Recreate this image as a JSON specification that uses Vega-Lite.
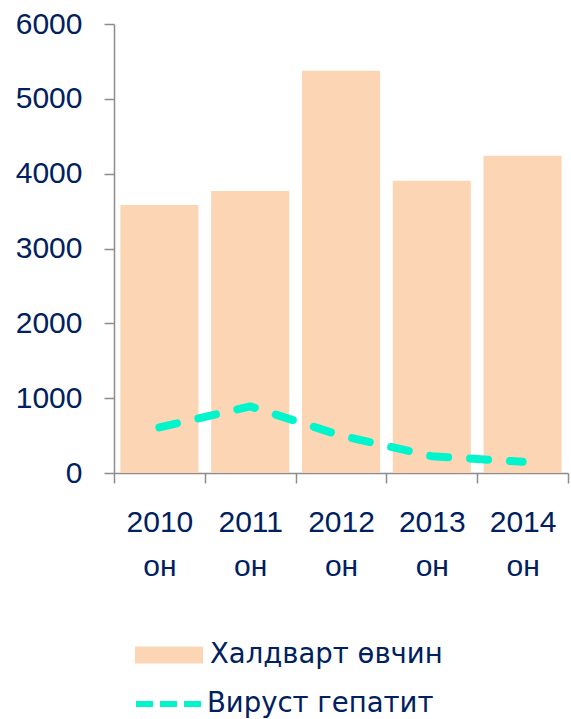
{
  "$schema": "https://vega.github.io/schema/vega-lite/v6.json",
  "autosize": "none",
  "width": 454,
  "height": 449,
  "padding": {"left": 114, "top": 24, "right": 3, "bottom": 246},
  "background": "white",
  "config": {
    "view": {"stroke": null},
    "font": "Liberation Sans",
    "axis": {"labelFont": "Liberation Sans", "labelFontSize": 30, "labelColor": "#002060", "domainColor": "#8C8C8C", "tickColor": "#8C8C8C", "domainWidth": 1.5, "tickWidth": 1.5, "tickSize": 10, "grid": false, "title": null},
    "legend": {"labelFont": "DejaVu Sans", "labelFontSize": 27.5, "labelColor": "#002060", "padding": 0, "title": null, "labelLimit": 400}
  },
  "data": {"values": [
    {"year": "2010 он", "infect": 3580, "hep": 610},
    {"year": "2011 он", "infect": 3770, "hep": 890},
    {"year": "2012 он", "infect": 5375, "hep": 500},
    {"year": "2013 он", "infect": 3905, "hep": 225},
    {"year": "2014 он", "infect": 4240, "hep": 150}
  ]},
  "encoding": {
    "x": {"field": "year", "type": "nominal", "sort": null,
      "scale": {"paddingInner": 0, "paddingOuter": 0},
      "axis": {"labelAngle": 0, "tickBand": "extent", "labelExpr": "split(datum.label, ' ')", "labelLineHeight": 44, "labelPadding": 24, "labelBaseline": "top"}}
  },
  "layer": [
    {
      "mark": {"type": "bar", "width": {"band": 0.86}},
      "encoding": {
        "y": {"field": "infect", "type": "quantitative", "scale": {"domain": [0, 6000]},
          "axis": {"values": [0, 1000, 2000, 3000, 4000, 5000, 6000], "format": "d", "labelPadding": 22}},
        "fill": {"datum": "Халдварт өвчин", "type": "nominal", "scale": {"range": ["#FCD5B5"]},
          "legend": {"orient": "none", "legendX": 21, "legendY": 597, "symbolType": "M-1,-0.25H1V0.25H-1Z", "symbolSize": 4624, "symbolStrokeWidth": 0, "symbolOpacity": 1, "labelOffset": 7}}
      }
    },
    {
      "mark": {"type": "line", "strokeWidth": 8, "strokeDash": [18, 22], "strokeCap": "round", "strokeJoin": "round"},
      "encoding": {
        "y": {"field": "hep", "type": "quantitative"},
        "stroke": {"datum": "Вируст гепатит", "type": "nominal", "scale": {"range": ["#00F5CC"]},
          "legend": {"orient": "none", "legendX": 19, "legendY": 641, "symbolType": "stroke", "symbolSize": 5184, "symbolStrokeWidth": 6, "symbolDash": [17, 7], "labelOffset": -4}}
      }
    }
  ]
}
